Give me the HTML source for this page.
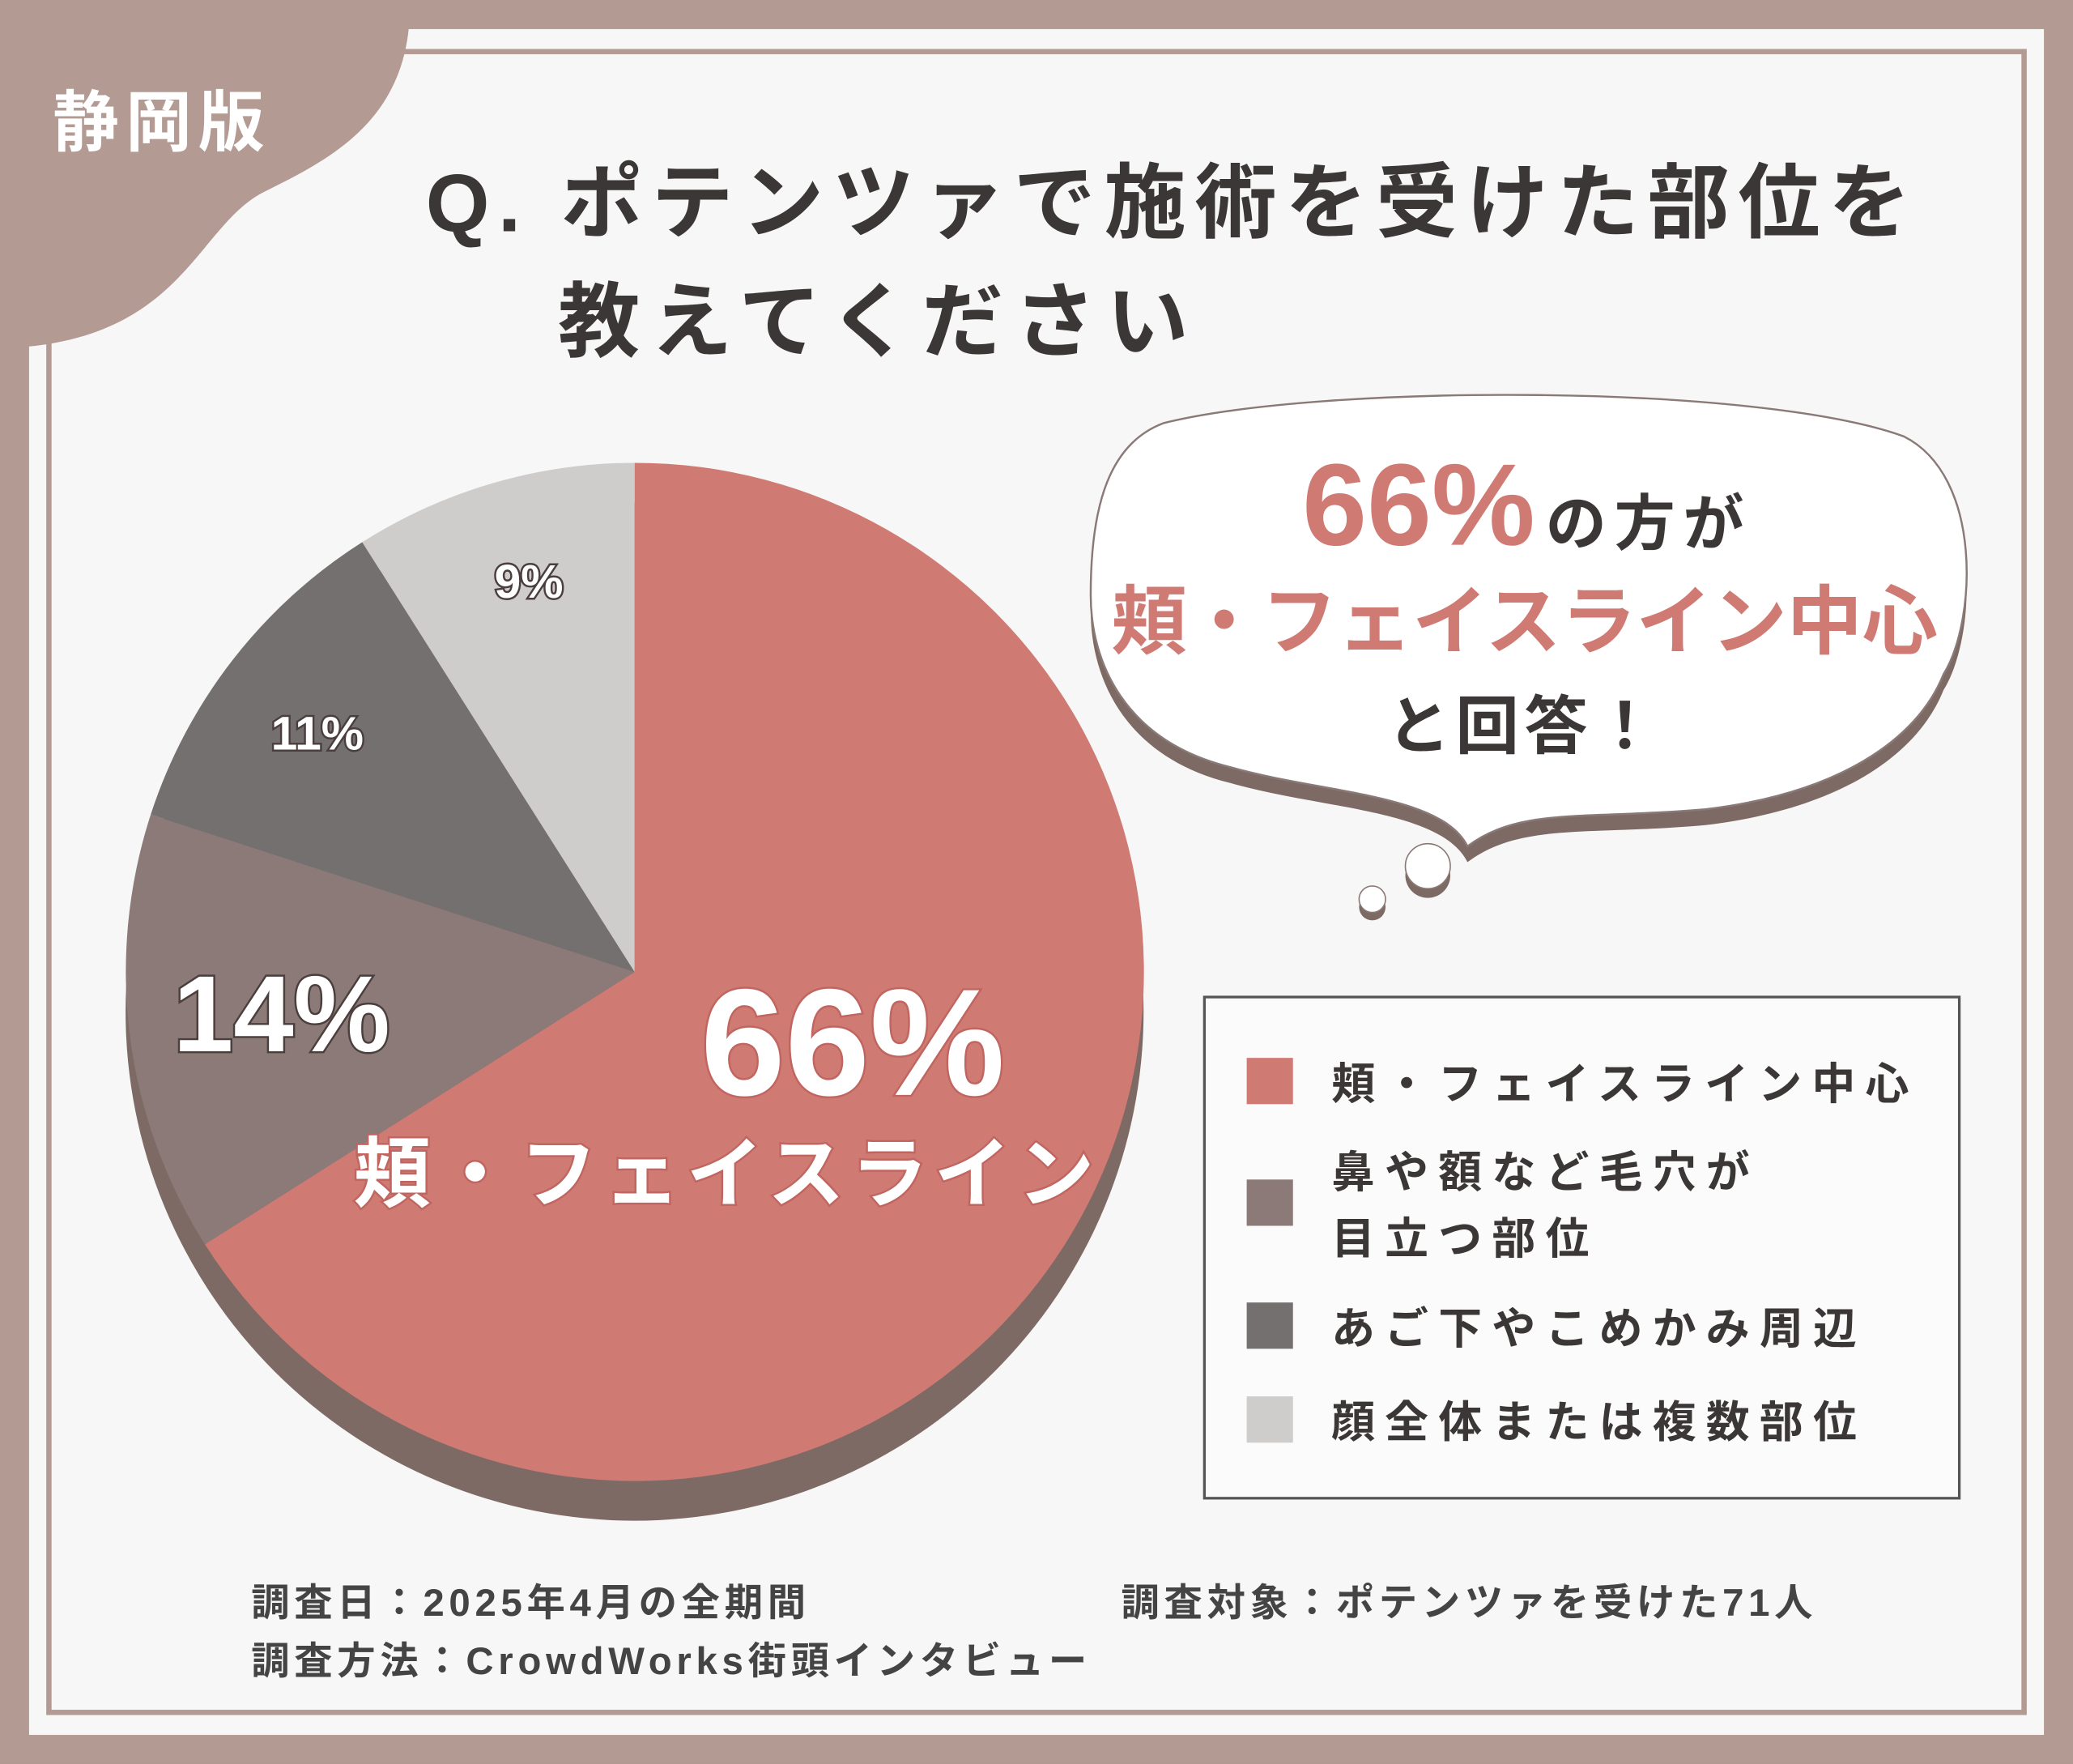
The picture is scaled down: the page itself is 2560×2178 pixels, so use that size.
<!DOCTYPE html>
<html><head><meta charset="utf-8"><style>
html,body{margin:0;padding:0;background:#b39a92;}
svg{display:block;}
text{font-family:"Liberation Sans","Noto Sans CJK JP",sans-serif;font-weight:bold;}
</style></head><body>
<svg width="2560" height="2178" viewBox="0 0 1568 1334" xmlns="http://www.w3.org/2000/svg">
<rect x="0" y="0" width="1568" height="1334" fill="#b39a92"/>
<rect x="22" y="22" width="1524" height="1290" fill="#f8f7f7"/>
<rect x="37" y="39" width="1494" height="1256" fill="none" stroke="#b39a92" stroke-width="4"/>
<path d="M0 0 H310 C312 90 250 120 200 145 C150 170 140 250 22 262 L0 262 Z" fill="#b39a92"/>
<text x="40" y="110" font-size="50" fill="#fff" letter-spacing="5">静岡版</text>
<text x="322" y="175" font-size="62" fill="#3b3737" letter-spacing="6.5">Q. ポテンツァで施術を受けた部位を</text>
<text x="422" y="265" font-size="62" fill="#3b3737" letter-spacing="8">教えてください</text>
<circle cx="480" cy="765" r="385" fill="#7d6a65"/>
<path d="M480 735 L480 350 A385 385 0 1 1 155 941 Z" fill="#d07a74"/>
<path d="M480 735 L155 941 A385 385 0 0 1 114 616 Z" fill="#8c7a78"/>
<path d="M480 735 L114 616 A385 385 0 0 1 274 410 Z" fill="#747070"/>
<path d="M480 735 L274 410 A385 385 0 0 1 480 350 Z" fill="#cfcccc"/>
<g fill="#fff" stroke="#c06560" stroke-width="3" paint-order="stroke">
<text x="645" y="828" font-size="115" text-anchor="middle">66%</text>
<text x="550" y="908" font-size="58" text-anchor="middle" letter-spacing="5">頬・フェイスライン</text>
</g>
<g fill="#fff" stroke="#4a3f3d" stroke-width="3" paint-order="stroke">
<text x="213" y="795" font-size="82" text-anchor="middle">14%</text>
<text x="240" y="567" font-size="36" text-anchor="middle">11%</text>
<text x="400" y="452" font-size="36" text-anchor="middle">9%</text>
</g>
<path d="M880 320 C1000 290 1330 290 1440 330 C1500 360 1495 470 1470 510 C1450 560 1390 600 1290 612 C1200 620 1150 610 1110 640 C1090 600 1000 600 930 580 C850 560 825 500 825 450 C825 380 840 335 880 320 Z" fill="#7d6a65" transform="translate(0,12)"/>
<path d="M880 320 C1000 290 1330 290 1440 330 C1500 360 1495 470 1470 510 C1450 560 1390 600 1290 612 C1200 620 1150 610 1110 640 C1090 600 1000 600 930 580 C850 560 825 500 825 450 C825 380 840 335 880 320 Z" fill="#fff" stroke="#8a7a77" stroke-width="1.5"/>
<circle cx="1080" cy="662" r="17" fill="#7d6a65"/><circle cx="1080" cy="655" r="17" fill="#fff" stroke="#8a7a77"/>
<circle cx="1038" cy="686" r="10" fill="#7d6a65"/><circle cx="1038" cy="680" r="10" fill="#fff" stroke="#8a7a77"/>
<text x="985" y="412" font-size="88" fill="#d07a74">66%<tspan font-size="46" fill="#3b3737" dx="8" letter-spacing="6">の方が</tspan></text>
<text x="1153" y="490" font-size="57" fill="#d07a74" text-anchor="middle">頬・フェイスライン中心</text>
<text x="1153" y="566" font-size="48" fill="#3b3737" text-anchor="middle" letter-spacing="4">と回答！</text>
<rect x="911" y="754" width="571" height="379" fill="#fbfbfb" stroke="#555" stroke-width="2"/>
<rect x="943" y="800" width="35" height="35" fill="#d07a74"/>
<rect x="943" y="892" width="35" height="35" fill="#8c7a78"/>
<rect x="943" y="985" width="35" height="35" fill="#747070"/>
<rect x="943" y="1056" width="35" height="35" fill="#cfcccc"/>
<g font-size="33" fill="#3b3737" letter-spacing="7.5">
<text x="1007" y="831">頬・フェイスライン中心</text>
<text x="1007" y="898">鼻や額など毛穴が</text>
<text x="1007" y="948">目立つ部位</text>
<text x="1007" y="1016">あご下やこめかみ周辺</text>
<text x="1007" y="1087">顔全体または複数部位</text>
</g>
<g font-size="29" fill="#444" letter-spacing="3.5">
<text x="190" y="1222">調査日：2025年4月の全期間</text>
<text x="190" y="1266">調査方法：CrowdWorks街頭インタビュー</text>
<text x="848" y="1222">調査対象：ポテンツァを受けた71人</text>
</g>
</svg>
</body></html>
